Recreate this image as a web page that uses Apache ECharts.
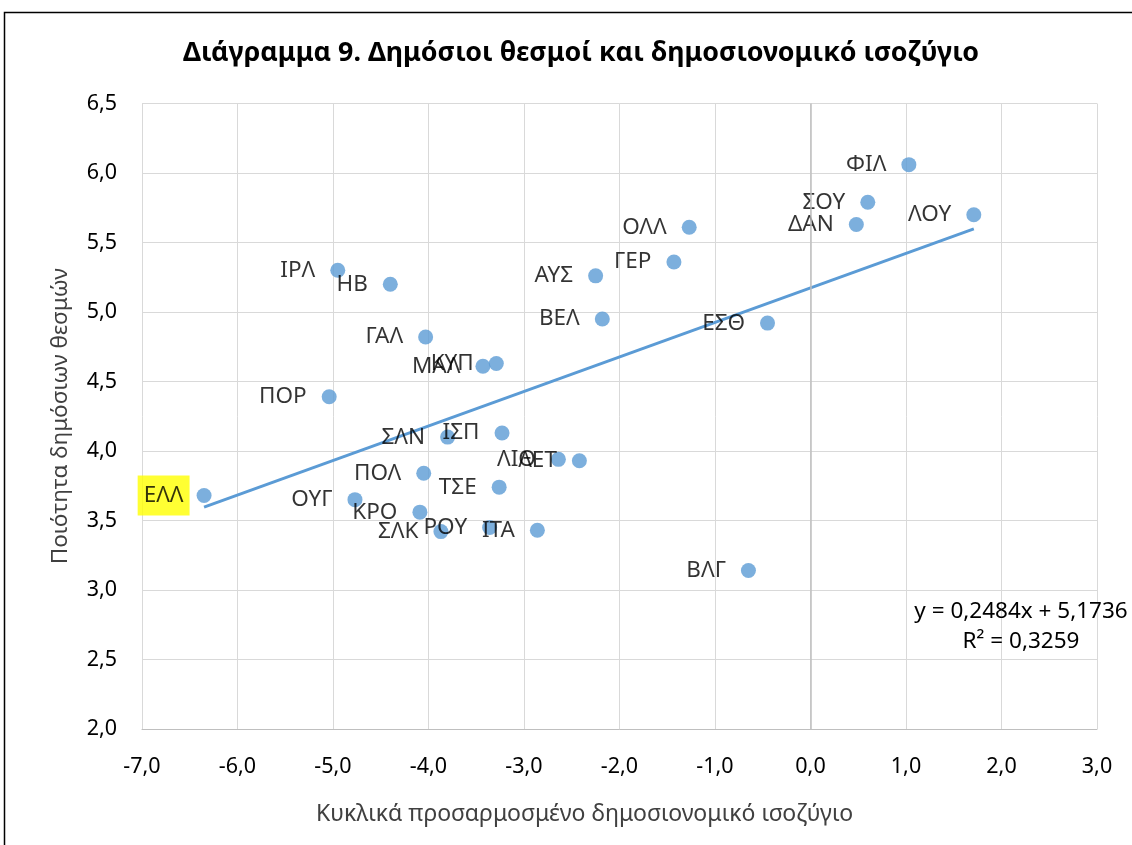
<!DOCTYPE html>
<html>
<head>
<meta charset="utf-8">
<script src="https://cdn.jsdelivr.net/npm/echarts@6/dist/echarts.min.js"></script>
<style>
html,body{margin:0;padding:0;background:#fff;}
#c{width:1132px;height:845px;}
</style>
</head>
<body>
<div id="c"></div>
<script>
// Data
const names = ['ΕΛΛ','ΟΥΓ','ΚΡΟ','ΣΛΚ','ΡΟΥ','ΙΤΑ','ΠΟΛ','ΤΣΕ','ΣΛΝ','ΙΣΠ','ΛΙΘ','ΛΕΤ','ΓΑΛ','ΜΑΛ','ΚΥΠ','ΠΟΡ','ΙΡΛ','ΗΒ','ΑΥΣ','ΒΕΛ','ΓΕΡ','ΟΛΛ','ΕΣΘ','ΔΑΝ','ΣΟΥ','ΦΙΛ','ΛΟΥ','ΒΛΓ'];
const balance = [-6.35,-4.77,-4.09,-3.87,-3.36,-2.86,-4.05,-3.26,-3.80,-3.23,-2.64,-2.42,-4.03,-3.43,-3.29,-5.04,-4.95,-4.40,-2.25,-2.18,-1.43,-1.27,-0.45,0.48,0.60,1.03,1.71,-0.65];
const quality = [3.68,3.65,3.56,3.42,3.45,3.43,3.84,3.74,4.10,4.13,3.94,3.93,4.82,4.61,4.63,4.39,5.30,5.20,5.26,4.95,5.36,5.61,4.92,5.63,5.79,6.06,5.70,3.14];
const highlight = ['ΕΛΛ'];
const trendCoef = [0.2484, 5.1736]; // slope, intercept (from the chart's equation)
const trendText = ['y = 0,2484x + 5,1736', 'R² = 0,3259'];
const xTicks = [-7, -6, -5, -4, -3, -2, -1, 0, 1, 2, 3];
const yTicks = [2.0, 2.5, 3.0, 3.5, 4.0, 4.5, 5.0, 5.5, 6.0, 6.5];

const FONT = 'Noto Sans';
const fmt = v => v.toFixed(1).replace('.', ',');

const points = names.map((n, i) => {
  const item = { name: n, value: [balance[i], quality[i]] };
  if (highlight.includes(n)) {
    item.label = { backgroundColor: '#FFFF00', padding: [9, 6, 8, 6], distance: 7 };
  }
  return item;
});
const xMinD = Math.min(...balance), xMaxD = Math.max(...balance);
const trend = [xMinD, xMaxD].map(x => [x, trendCoef[0] * x + trendCoef[1]]);

const chart = echarts.init(document.getElementById('c'));
chart.setOption({
  animation: false,
  backgroundColor: '#fff',
  title: {
    text: 'Διάγραμμα 9. Δημόσιοι θεσμοί και δημοσιονομικό ισοζύγιο',
    left: 576, top: 35, textAlign: 'center',
    textStyle: { fontFamily: FONT, fontSize: 26.8, fontWeight: 'bold', color: '#000' }
  },
  grid: { left: 142, right: 35, top: 103.5, bottom: 116, containLabel: false, outerBoundsMode: 'none' },
  xAxis: {
    type: 'value', min: xTicks[0], max: xTicks[xTicks.length - 1], interval: 1,
    name: 'Κυκλικά προσαρμοσμένο δημοσιονομικό ισοζύγιο',
    nameLocation: 'middle', nameGap: 74,
    nameTextStyle: { fontFamily: FONT, fontSize: 23, color: '#404040', padding: [0, 70, 0, 0] },
    axisLine: { show: true, onZero: false, lineStyle: { color: '#BFBFBF', width: 1 } },
    axisTick: { show: false },
    splitLine: { show: true, lineStyle: { color: '#D9D9D9', width: 1 } },
    axisLabel: { fontFamily: FONT, fontSize: 21.5, color: '#000', margin: 27, formatter: fmt }
  },
  yAxis: {
    type: 'value', min: yTicks[0], max: yTicks[yTicks.length - 1], interval: 0.5,
    name: 'Ποιότητα δημόσιων θεσμών',
    nameLocation: 'middle', nameGap: 70,
    nameTextStyle: { fontFamily: FONT, fontSize: 22.5, color: '#404040' },
    axisLine: { show: false },
    axisTick: { show: false },
    splitLine: { show: true, lineStyle: { color: '#D9D9D9', width: 1 } },
    axisLabel: { fontFamily: FONT, fontSize: 21.5, color: '#000', margin: 25, formatter: fmt }
  },
  series: [
    {
      type: 'line', data: trend, symbol: 'none', silent: true, z: 3,
      lineStyle: { color: '#5B9BD5', width: 3 },
      markLine: {
        silent: true, symbol: 'none', label: { show: false },
        lineStyle: { color: '#BFBFBF', width: 1.5, type: 'solid' },
        data: [{ xAxis: 0 }]
      }
    },
    {
      type: 'scatter', data: points, symbolSize: 15, z: 4,
      itemStyle: { color: '#5B9BD5' },
      label: {
        show: true, position: 'left', distance: 15, formatter: '{b}',
        fontFamily: FONT, fontSize: 22.5, color: '#000'
      },
      labelLayout: { hideOverlap: false }
    }
  ],
  graphic: [
    { type: 'rect', shape: { x: 4.5, y: 12.5, width: 1300, height: 1000 }, style: { fill: 'none', stroke: '#000', lineWidth: 1.5 }, silent: true, z: 100 },
    { type: 'text', x: 1021, y: 597, style: { text: trendText.join('\n'), textAlign: 'center', fontFamily: FONT, fontSize: 22.5, lineHeight: 30, fill: '#000' }, z: 100 }
  ]
});
</script>
</body>
</html>
